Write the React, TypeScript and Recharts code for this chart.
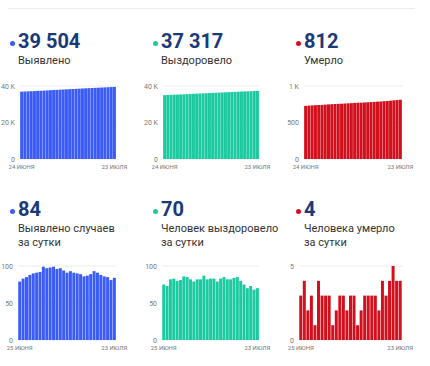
import { Bar, BarChart, CartesianGrid, XAxis, YAxis } from 'recharts';

const datesTotal = [
  '24 июня', '25 июня', '26 июня', '27 июня', '28 июня', '29 июня', '30 июня',
  '1 июля', '2 июля', '3 июля', '4 июля', '5 июля', '6 июля', '7 июля', '8 июля',
  '9 июля', '10 июля', '11 июля', '12 июля', '13 июля', '14 июля', '15 июля',
  '16 июля', '17 июля', '18 июля', '19 июля', '20 июля', '21 июля', '22 июля', '23 июля',
];
const datesDaily = datesTotal.slice(1);

const casesTotal = [
  36892, 36971, 37054, 37139, 37227, 37317, 37408, 37500, 37599, 37696, 37794, 37893,
  37989, 38086, 38180, 38271, 38364, 38455, 38545, 38634, 38720, 38807, 38896, 38989,
  39080, 39168, 39254, 39339, 39420, 39504,
];
const recoveredTotal = [
  34996, 35071, 35144, 35226, 35309, 35389, 35470, 35556, 35641, 35723, 35802, 35884,
  35966, 36053, 36135, 36218, 36301, 36380, 36463, 36548, 36630, 36712, 36796, 36881,
  36961, 37036, 37106, 37179, 37247, 37317,
];
const deathsTotal = [
  728, 731, 735, 737, 740, 741, 745, 748, 751, 754, 755, 757, 760, 763, 765, 768, 771,
  772, 774, 777, 780, 783, 786, 788, 792, 795, 799, 804, 808, 812,
];
const casesDaily = [
  79, 83, 85, 88, 90, 91, 92, 99, 97, 98, 99, 96, 97, 94, 91, 93, 91, 90, 89, 86, 87,
  89, 93, 91, 88, 86, 85, 81, 84,
];
const recoveredDaily = [
  75, 73, 82, 83, 80, 81, 86, 85, 82, 79, 82, 82, 87, 82, 83, 83, 79, 83, 85, 82, 82,
  84, 85, 80, 75, 70, 73, 68, 70,
];
const deathsDaily = [
  3, 4, 2, 3, 1, 4, 3, 3, 3, 1, 2, 3, 3, 2, 3, 3, 1, 2, 3, 3, 3, 3, 2, 4, 3, 4, 5, 4, 4,
];

const BLUE = '#3b5cf6';
const TEAL = '#1ccaa2';
const RED = '#d2101d';
const NAVY = '#1a3979';
const FONT = 'Roboto, "Noto Sans", sans-serif';

const fmtK = (v: number) => (v === 0 ? '0' : v >= 1000 ? `${v / 1000} K` : String(v));

// plain svg ticks so recharts doesn't wrap "40 K" onto two lines
function YTick({ x, y, payload }: any) {
  return (
    <text x={x} y={y} dy={2.5} textAnchor="end" fontSize={7} fill="#777" fontFamily={FONT}>
      {fmtK(payload.value)}
    </text>
  );
}

function XTick({ x, y, payload }: any) {
  return (
    <text x={x} y={y} dy={6} textAnchor="middle" fontSize={6} fill="#777" fontFamily={FONT}>
      {String(payload.value).toUpperCase()}
    </text>
  );
}

interface MiniChartProps {
  dates: string[];
  values: number[];
  color: string;
  left: number;
  top: number;
  plotRight: number;
  yWidth: number;
  plotHeight: number;
  domain: [number, number];
  ticks: number[];
  gap: string;
}

function MiniChart({ dates, values, color, left, top, plotRight, yWidth, plotHeight, domain, ticks, gap }: MiniChartProps) {
  const data = dates.map((d, i) => ({ d, v: values[i] }));
  const height = 6 + plotHeight + 16;
  const rightPad = 16;
  const width = plotRight - left + rightPad;
  return (
    <div style={{ position: 'absolute', left, top }}>
      <BarChart
        width={width}
        height={height}
        data={data}
        margin={{ top: 6, right: rightPad, left: 0, bottom: 0 }}
        barCategoryGap={gap}
      >
        <CartesianGrid vertical={false} stroke="#ececec" />
        <XAxis
          dataKey="d"
          ticks={[dates[0], dates[dates.length - 1]]}
          interval={0}
          axisLine={false}
          tickLine={false}
          tickSize={0}
          tickMargin={4}
          height={16}
          tick={<XTick />}
        />
        <YAxis
          width={yWidth}
          domain={domain}
          ticks={ticks}
          interval={0}
          axisLine={false}
          tickLine={false}
          tickSize={0}
          tickMargin={5}
          tick={<YTick />}
        />
        <Bar dataKey="v" fill={color} isAnimationActive={false} />
      </BarChart>
    </div>
  );
}

function Header({ x, top, value, lines, color }: { x: number; top: number; value: string; lines: string[]; color: string }) {
  return (
    <>
      <div
        style={{
          position: 'absolute',
          left: x - 8,
          top: top + 11,
          width: 5,
          height: 5,
          borderRadius: '50%',
          background: color,
        }}
      />
      <div
        style={{
          position: 'absolute',
          left: x,
          top: top + 1,
          fontFamily: FONT,
          fontWeight: 700,
          fontSize: 20,
          lineHeight: '20px',
          color: NAVY,
          whiteSpace: 'nowrap',
        }}
      >
        {value}
      </div>
      <div
        style={{
          position: 'absolute',
          left: x,
          top: top + 24,
          fontFamily: FONT,
          fontSize: 11,
          lineHeight: '14px',
          color: '#333',
          whiteSpace: 'nowrap',
        }}
      >
        {lines.map((l) => (
          <div key={l}>{l}</div>
        ))}
      </div>
    </>
  );
}

export default function App() {
  return (
    <div style={{ position: 'absolute', left: 0, top: 0, width: 430, height: 366, background: '#fff' }}>
      <div style={{ position: 'absolute', left: 8, top: 8, width: 407, height: 1, background: '#ececec' }} />

      <Header x={18} top={30} value="39 504" lines={['Выявлено']} color={BLUE} />
      <Header x={161} top={30} value="37 317" lines={['Выздоровело']} color={TEAL} />
      <Header x={304} top={30} value="812" lines={['Умерло']} color={RED} />

      <Header x={18} top={198} value="84" lines={['Выявлено случаев', 'за сутки']} color={BLUE} />
      <Header x={161} top={198} value="70" lines={['Человек выздоровело', 'за сутки']} color={TEAL} />
      <Header x={304} top={198} value="4" lines={['Человека умерло', 'за сутки']} color={RED} />

      <MiniChart dates={datesTotal} values={casesTotal} color={BLUE} left={0} top={80} plotRight={116} yWidth={20} plotHeight={73} domain={[0, 40000]} ticks={[0, 20000, 40000]} gap="4%" />
      <MiniChart dates={datesTotal} values={recoveredTotal} color={TEAL} left={140} top={80} plotRight={259} yWidth={23} plotHeight={73} domain={[0, 40000]} ticks={[0, 20000, 40000]} gap="4%" />
      <MiniChart dates={datesTotal} values={deathsTotal} color={RED} left={280} top={80} plotRight={402} yWidth={24} plotHeight={73} domain={[0, 1000]} ticks={[0, 500, 1000]} gap="4%" />

      <MiniChart dates={datesDaily} values={casesDaily} color={BLUE} left={0} top={260} plotRight={116} yWidth={18} plotHeight={74} domain={[0, 100]} ticks={[0, 50, 100]} gap="7%" />
      <MiniChart dates={datesDaily} values={recoveredDaily} color={TEAL} left={140} top={260} plotRight={259} yWidth={22} plotHeight={74} domain={[0, 100]} ticks={[0, 50, 100]} gap="7%" />
      <MiniChart dates={datesDaily} values={deathsDaily} color={RED} left={280} top={260} plotRight={402} yWidth={19} plotHeight={74} domain={[0, 5]} ticks={[0, 5]} gap="7%" />
    </div>
  );
}
